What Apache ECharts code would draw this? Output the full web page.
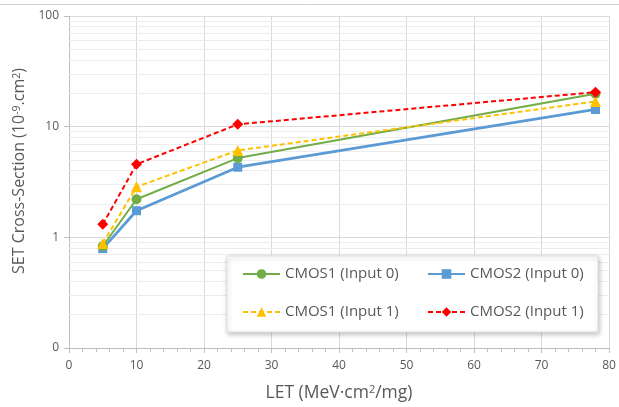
<!DOCTYPE html>
<html>
<head>
<meta charset="utf-8">
<script src="https://cdn.jsdelivr.net/npm/echarts@6/dist/echarts.min.js"></script>
<style>
html,body{margin:0;padding:0;background:#fff;}
#chart{width:619px;height:407px;}
</style>
</head>
<body>
<div id="chart"></div>
<script>
// LET values (x)
var letValues = [5, 10, 25, 78];
// SET cross-section values (y, 1e-9 cm^2)
var cmos1Input0 = [0.83, 2.21, 5.2, 19.8];
var cmos2Input0 = [0.79, 1.74, 4.3, 14.3];
var cmos1Input1 = [0.88, 2.86, 6.1, 16.9];
var cmos2Input1 = [1.31, 4.57, 10.5, 20.5];
var seriesNames = ['CMOS1 (Input 0)', 'CMOS2 (Input 0)', 'CMOS1 (Input 1)', 'CMOS2 (Input 1)'];
// tick labels
var xTickLabels = ['0','10','20','30','40','50','60','70','80'];
var yTickValues = [0.1, 1, 10, 100];
var yTickLabels = ['0', '1', '10', '100'];
// minor log gridlines
var minorGridValues = [0.2,0.3,0.4,0.5,0.6,0.7,0.8,0.9,2,3,4,5,6,7,8,9,20,30,40,50,60,70,80,90];

function pairs(ys){ return letValues.map(function(x,i){ return [x, ys[i]]; }); }

var font = 'Open Sans';
var textColor = '#595959';

var chart = echarts.init(document.getElementById('chart'), null, {renderer:'canvas'});
var option = {
  animation: false,
  textStyle: {fontFamily: font},
  grid: {left: 69, right: 10, top: 16, bottom: 57, containLabel: false},
  xAxis: {
    type: 'value', min: 0, max: 80, interval: 10,
    name: 'LET (MeV·cm{sup|2}/mg)', nameLocation: 'middle', nameGap: 36,
    nameTextStyle: {fontFamily: font, fontSize: 17.5, color: textColor,
      rich: {sup: {fontFamily: font, fontSize: 11, color: textColor, verticalAlign: 'top', padding: [0,0,6,0]}}},
    axisLine: {show: true, lineStyle: {color: '#bfbfbf'}},
    axisTick: {show: true, length: 5, lineStyle: {color: '#bfbfbf'}},
    minorTick: {show: true, splitNumber: 5, length: 4, lineStyle: {color: '#bfbfbf'}},
    splitLine: {show: true, lineStyle: {color: '#d9d9d9'}},
    axisLabel: {fontFamily: font, fontSize: 12, color: textColor, margin: 12,
      formatter: function(v){ return xTickLabels[Math.round(v/10)]; }}
  },
  yAxis: {
    type: 'log', logBase: 10, min: 0.1, max: 100,
    name: 'SET Cross-Section (10{sup|-9}.cm{sup|2})', nameLocation: 'middle', nameGap: 24,
    nameTextStyle: {fontFamily: font, fontSize: 16, color: textColor, padding: [0, 0, 0, 22],
      rich: {sup: {fontFamily: font, fontSize: 10.5, color: textColor, verticalAlign: 'top', padding: [0,0,6,0]}}},
    axisLine: {show: true, lineStyle: {color: '#bfbfbf'}},
    axisTick: {show: true, length: 5, lineStyle: {color: '#bfbfbf'}},
    splitLine: {show: true, lineStyle: {color: '#d9d9d9'}},
    axisLabel: {fontFamily: font, fontSize: 12, color: textColor, margin: 10,
      formatter: function(v){
        var best = 0, bd = 1e9;
        for (var i=0;i<yTickValues.length;i++){ var d=Math.abs(Math.log10(v)-Math.log10(yTickValues[i])); if(d<bd){bd=d;best=i;} }
        return yTickLabels[best];
      }}
  },
  graphic: [
    {type:'line', shape:{x1:0,y1:4.5,x2:619,y2:4.5}, style:{stroke:'#d0d0d0', lineWidth:1}, z: 0},
    {type:'rect', shape:{x:227,y:256,width:371,height:76}, style:{fill:'#ffffff', stroke:'#e0e0e0', lineWidth:1, shadowBlur:5, shadowColor:'rgba(0,0,0,0.25)', shadowOffsetX:1, shadowOffsetY:2}, z: 50}
  ],
  legend: [
    {data:[seriesNames[0], seriesNames[2]], orient:'vertical', left: 242, top: 264, itemGap: 18, itemWidth: 37, itemHeight: 12, padding: 0,
     textStyle:{fontFamily: font, fontSize: 15, color: textColor, lineHeight: 20}, z: 60},
    {data:[seriesNames[1], seriesNames[3]], orient:'vertical', left: 427, top: 264, itemGap: 18, itemWidth: 37, itemHeight: 12, padding: 0,
     textStyle:{fontFamily: font, fontSize: 15, color: textColor, lineHeight: 20}, z: 60}
  ],
  series: [
    {name:'minor', type:'line', data:[], silent:true, z:1,
     markLine:{silent:true, z:1, symbol:['none','none'], label:{show:false}, animation:false,
       lineStyle:{color:'#ececec', type:'solid', width:1},
       data: minorGridValues.map(function(v){ return {yAxis: v}; })}},
    {name: seriesNames[0], type:'line', data: pairs(cmos1Input0), symbol:'circle', symbolSize:10,
     itemStyle:{color:'#70AD47'}, lineStyle:{color:'#70AD47', width:2}, z:3},
    {name: seriesNames[1], type:'line', data: pairs(cmos2Input0), symbol:'rect', symbolSize:9,
     itemStyle:{color:'#5B9BD5'}, lineStyle:{color:'#5B9BD5', width:2.75}, z:2},
    {name: seriesNames[2], type:'line', data: pairs(cmos1Input1), symbol:'triangle', symbolSize:11,
     itemStyle:{color:'#FFC000'}, lineStyle:{color:'#FFC000', width:2, type:[5,3]}, z:4},
    {name: seriesNames[3], type:'line', data: pairs(cmos2Input1), symbol:'diamond', symbolSize:11,
     itemStyle:{color:'#FF0000'}, lineStyle:{color:'#FF0000', width:2, type:[5,3]}, z:5}
  ]
};
chart.setOption(option);
</script>
</body>
</html>
